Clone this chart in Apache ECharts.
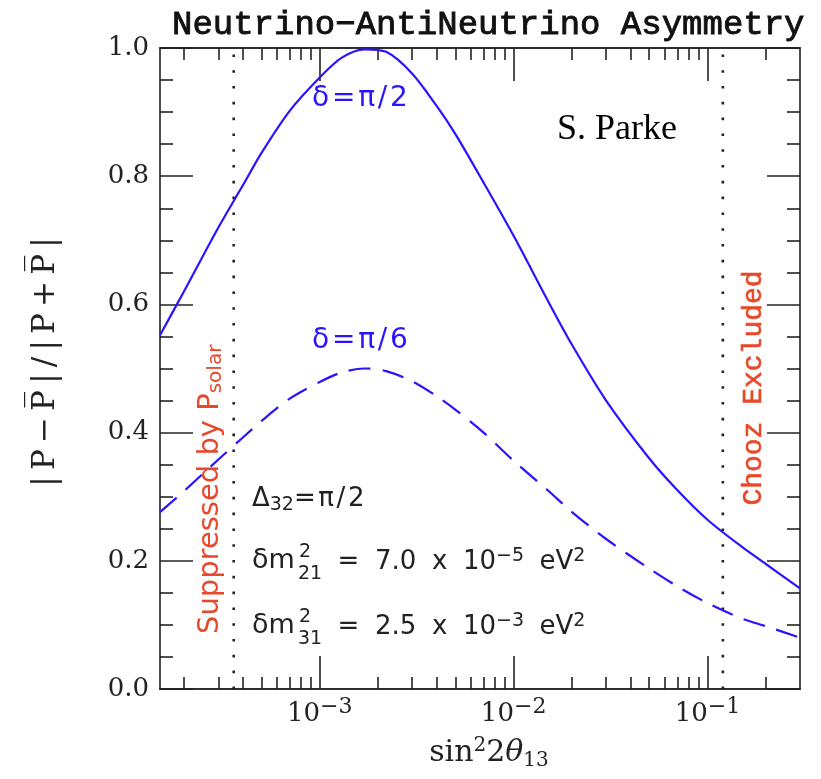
<!DOCTYPE html>
<html><head><meta charset="utf-8">
<script src="https://cdn.jsdelivr.net/npm/echarts@6/dist/echarts.min.js"></script>
<style>html,body{margin:0;padding:0;background:#fff}#c{width:821px;height:779px}</style>
</head><body><div id="c"></div>
<script>
// ---- data ----
const xValues = [1.5e-4, 2e-4, 3e-4, 4e-4, 5e-4, 7e-4, 1e-3, 1.3e-3, 1.7e-3, 2.2e-3, 3e-3, 4e-3, 5e-3, 7e-3, 1e-2, 1.5e-2, 2e-2, 3e-2, 5e-2, 7e-2, 0.1, 0.15, 0.2, 0.3];
const deltaPi2 = [0.552, 0.621, 0.720, 0.785, 0.836, 0.902, 0.954, 0.985, 0.998, 0.994, 0.960, 0.910, 0.866, 0.790, 0.707, 0.606, 0.537, 0.450, 0.360, 0.310, 0.264, 0.222, 0.195, 0.157];
const deltaPi6 = [0.276, 0.309, 0.358, 0.392, 0.418, 0.453, 0.479, 0.494, 0.500, 0.496, 0.480, 0.457, 0.436, 0.400, 0.356, 0.310, 0.276, 0.234, 0.188, 0.160, 0.134, 0.110, 0.098, 0.080];
const boundaryLines = [3.6e-4, 0.12];   // P_solar suppression, Chooz limit
const xMin = 1.5e-4, xMax = 0.3;
const majorXTicks = [1e-3, 1e-2, 1e-1];
const minorXTicks = [2e-4, 3e-4, 4e-4, 5e-4, 6e-4, 7e-4, 8e-4, 9e-4,
                     2e-3, 3e-3, 4e-3, 5e-3, 6e-3, 7e-3, 8e-3, 9e-3,
                     2e-2, 3e-2, 4e-2, 5e-2, 6e-2, 7e-2, 8e-2, 9e-2,
                     2e-1];
const yMin = 0, yMax = 1, yStep = 0.2;

// ---- styles ----
const BLUE = '#2a14ff', RED = '#e8482a', INK = '#222';
const lineSt = { color: INK, width: 1.6 };
const HS = '\u200A', TS = '\u2009', ES = '\u2002';

function xAxis(pos, ticks, len, labels) {
  return {
    type: 'log', logBase: 10, min: xMin, max: xMax, position: pos,
    axisLine: { show: true, onZero: false, lineStyle: lineSt },
    axisTick: { show: true, inside: true, length: len, customValues: ticks, lineStyle: lineSt },
    minorTick: { show: false },
    splitLine: { show: false },
    axisLabel: labels ? {
      show: true, customValues: majorXTicks, margin: 7,
      formatter: v => '{b|10}{s|−' + Math.round(-Math.log10(v)) + '}',
      rich: {
        b: { fontFamily: 'DejaVu Serif', fontSize: 26, color: INK },
        s: { fontFamily: 'DejaVu Serif', fontSize: 22, color: INK, verticalAlign: 'bottom', padding: [0, 0, 15, 0] }
      }
    } : { show: false }
  };
}
function yAxis(pos, labels) {
  return {
    type: 'value', min: yMin, max: yMax, interval: yStep, position: pos,
    axisLine: { show: true, onZero: false, lineStyle: lineSt },
    axisTick: { show: true, inside: true, length: 33, lineStyle: lineSt },
    minorTick: { show: true, splitNumber: 4, length: 13, lineStyle: lineSt },
    splitLine: { show: false }, minorSplitLine: { show: false },
    axisLabel: labels ? { show: true, formatter: v => v.toFixed(1), fontFamily: 'DejaVu Serif', fontSize: 26, color: INK, margin: 11 } : { show: false }
  };
}

const chart = echarts.init(document.getElementById('c'), null, { renderer: 'canvas' });
const sans = '"DejaVu Sans"';
const supSt = (fs, c) => ({ fontFamily: 'DejaVu Sans', fontSize: fs, fill: c, color: c, verticalAlign: 'bottom', padding: [0, 0, 12, 0] });
const subSt = (fs, c) => ({ fontFamily: 'DejaVu Sans', fontSize: fs, fill: c, color: c, verticalAlign: 'top', padding: [12, 0, 0, 0] });
const nSt = (fs, c) => ({ fontFamily: 'DejaVu Sans', fontSize: fs, fill: c, color: c });

const curveSeries = (name, vals, dash) => ({
  type: 'line', name, xAxisIndex: 0, yAxisIndex: 0, showSymbol: false, smooth: 0.3,
  data: xValues.map((x, i) => [x, vals[i]]),
  lineStyle: { color: BLUE, width: 2.2, type: dash || 'solid' }, z: 3
});

chart.setOption({
  animation: false,
  backgroundColor: '#fff',
  grid: { left: 160, right: 21, top: 48, bottom: 90, containLabel: false },
  xAxis: [
    xAxis('bottom', majorXTicks, 33, true),
    xAxis('bottom', minorXTicks, 12, false),
    xAxis('top', majorXTicks, 33, false),
    xAxis('top', minorXTicks, 12, false)
  ],
  yAxis: [yAxis('left', true), yAxis('right', false)],
  series: [
    curveSeries('δ=π/2', deltaPi2),
    curveSeries('δ=π/6', deltaPi6, [22, 12]),
    ...boundaryLines.map(v => ({
      type: 'line', xAxisIndex: 0, yAxisIndex: 0, showSymbol: false, silent: true, z: 2,
      data: [[v, yMin], [v, yMax]],
      lineStyle: { color: INK, width: 2.6, type: [2.6, 13.2] }
    }))
  ],
  graphic: [
    { type: 'text', x: 172, y: 25, style: { text: 'Neutrino−AntiNeutrino Asymmetry', font: '34px "Liberation Mono"', fill: '#111', stroke: '#111', lineWidth: 0.9, textAlign: 'left', textVerticalAlign: 'middle' } },
    { type: 'text', x: 46, y: 362, rotation: Math.PI / 2, style: { text: ['|', 'P', '−', 'P\u0305', '|', '/', '|', 'P', '+', 'P\u0305', '|'].join(TS), font: '31px "DejaVu Serif"', fill: INK, textAlign: 'center', textVerticalAlign: 'middle' } },
    { type: 'text', x: 489, y: 753, style: {
        text: '{n|sin}{p|2}{n|2}{t|θ}{b|13}', textAlign: 'center', textVerticalAlign: 'middle',
        rich: {
          n: { fontFamily: 'DejaVu Serif', fontSize: 30, fill: INK },
          t: { fontFamily: 'DejaVu Serif', fontStyle: 'italic', fontSize: 30, fill: INK },
          p: { fontFamily: 'DejaVu Serif', fontSize: 20, fill: INK, verticalAlign: 'bottom', padding: [0, 0, 15, 0] },
          b: { fontFamily: 'DejaVu Serif', fontSize: 20, fill: INK, verticalAlign: 'top', padding: [15, 0, 0, 0] }
        } } },
    { type: 'text', x: 312, y: 99, style: { text: ['δ', '=', 'π', '/', '2'].join(HS), font: '28px ' + sans, fill: BLUE, textAlign: 'left', textVerticalAlign: 'middle' } },
    { type: 'text', x: 312, y: 341, style: { text: ['δ', '=', 'π', '/', '6'].join(HS), font: '28px ' + sans, fill: BLUE, textAlign: 'left', textVerticalAlign: 'middle' } },
    { type: 'text', x: 557, y: 130, style: { text: 'S. Parke', font: '36px "Liberation Serif"', fill: '#000', textAlign: 'left', textVerticalAlign: 'middle' } },
    { type: 'text', x: 252, y: 499, style: {
        text: '{n|Δ}{b|32}{n|' + ['=', 'π', '/', '2'].join(HS) + '}', textAlign: 'left', textVerticalAlign: 'middle',
        rich: { n: nSt(26, INK), b: subSt(19, INK) } } },
    { type: 'text', x: 252, y: 561, style: { text: 'δm', font: '27px ' + sans, fill: INK, textAlign: 'left', textVerticalAlign: 'middle' } },
    { type: 'text', x: 299, y: 552, style: { text: '2', font: '19px ' + sans, fill: INK, textAlign: 'left', textVerticalAlign: 'middle' } },
    { type: 'text', x: 298, y: 574, style: { text: '21', font: '19px ' + sans, fill: INK, textAlign: 'left', textVerticalAlign: 'middle' } },
    { type: 'text', x: 322, y: 562, style: {
        text: '{n|' + ES + HS + '=' + ES + HS + '7.0' + ES + HS + 'x' + ES + HS + '10}{p|−5}{n|' + ES + HS + 'eV}{p|2}', textAlign: 'left', textVerticalAlign: 'middle',
        rich: { n: nSt(26, INK), p: supSt(19, INK) } } },
    { type: 'text', x: 252, y: 626, style: { text: 'δm', font: '27px ' + sans, fill: INK, textAlign: 'left', textVerticalAlign: 'middle' } },
    { type: 'text', x: 299, y: 617, style: { text: '2', font: '19px ' + sans, fill: INK, textAlign: 'left', textVerticalAlign: 'middle' } },
    { type: 'text', x: 298, y: 639, style: { text: '31', font: '19px ' + sans, fill: INK, textAlign: 'left', textVerticalAlign: 'middle' } },
    { type: 'text', x: 322, y: 627, style: {
        text: '{n|' + ES + HS + '=' + ES + HS + '2.5' + ES + HS + 'x' + ES + HS + '10}{p|−3}{n|' + ES + HS + 'eV}{p|2}', textAlign: 'left', textVerticalAlign: 'middle',
        rich: { n: nSt(26, INK), p: supSt(19, INK) } } },
    { type: 'text', x: 210, y: 634, rotation: Math.PI / 2, style: {
        text: '{n|Suppressed by P}{b|solar}', textAlign: 'left', textVerticalAlign: 'middle',
        rich: { n: nSt(29, RED), b: subSt(20, RED) } } },
    { type: 'text', x: 754, y: 388, rotation: Math.PI / 2, style: { text: 'Chooz Excluded', font: '28px "Liberation Mono"', fill: RED, stroke: RED, lineWidth: 0.6, textAlign: 'center', textVerticalAlign: 'middle' } }
  ]
});
</script></body></html>
